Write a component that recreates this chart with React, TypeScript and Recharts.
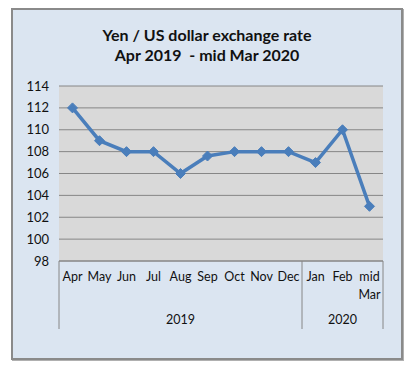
import React from "react";
import { LineChart, Line, XAxis, YAxis, CartesianGrid } from "recharts";

const months = ["Apr", "May", "Jun", "Jul", "Aug", "Sep", "Oct", "Nov", "Dec", "Jan", "Feb", "mid Mar"];
const years = ["2019", "2019", "2019", "2019", "2019", "2019", "2019", "2019", "2019", "2020", "2020", "2020"];
const rates = [112, 109, 108, 108, 106, 107.6, 108, 108, 108, 107, 110, 103];
const yTicks = [98, 100, 102, 104, 106, 108, 110, 112, 114];
const titleLines = ["Yen / US dollar exchange rate", "Apr 2019  - mid Mar 2020"];

const data = months.map((m, i) => ({ month: m, year: years[i], rate: rates[i] }));

const W = 419;
const H = 372;
const LEFT = 59;
const RIGHT = 36;
const PLOT_W = W - LEFT - RIGHT;
const BAND = PLOT_W / months.length;
const FONT = "Lato, 'Open Sans', sans-serif";
const LINE_COLOR = "#4a7ebb";
const AXIS_COLOR = "#868686";
const TICK_SIZE = 12.5;

const Diamond = (props: any) => {
  const { cx, cy } = props;
  if (cx == null || cy == null) return null;
  const r = 5;
  return (
    <path
      d={`M${cx},${cy - r} L${cx + r},${cy} L${cx},${cy + r} L${cx - r},${cy} Z`}
      fill={LINE_COLOR}
      stroke={LINE_COLOR}
      strokeWidth={1}
    />
  );
};

const MonthTick = (props: any) => {
  const { x, y, payload, index } = props;
  const i = index as number;
  const words = String(payload.value).split(" ");
  const isFirst = i === 0;
  const groupEnd = i === years.length - 1 || years[i] !== years[i + 1];
  const groupStart = i === 0 || years[i] !== years[i - 1];
  let yearLabel: React.ReactNode = null;
  if (groupStart) {
    let end = i;
    while (end + 1 < years.length && years[end + 1] === years[i]) end++;
    const cx = x + ((i + end) / 2 - i) * BAND;
    yearLabel = (
      <text x={cx} y={y + 63} textAnchor="middle" fontSize={TICK_SIZE} fontFamily={FONT} fill="#111">
        {years[i]}
      </text>
    );
  }
  return (
    <g>
      {words.map((w, k) => (
        <text
          key={k}
          x={x}
          y={y + 20 + k * 18}
          textAnchor="middle"
          fontSize={TICK_SIZE}
          fontFamily={FONT}
          fill="#111"
        >
          {w}
        </text>
      ))}
      {isFirst && <line x1={x - BAND / 2} x2={x - BAND / 2} y1={y} y2={y + 68} stroke={AXIS_COLOR} strokeWidth={1} />}
      {groupEnd && <line x1={x + BAND / 2} x2={x + BAND / 2} y1={y} y2={y + 68} stroke={AXIS_COLOR} strokeWidth={1} />}
      {yearLabel}
    </g>
  );
};

export default function App() {
  return (
    <div style={{ position: "absolute", left: 0, top: 0, width: W, height: H }}>
      <div
        style={{
          position: "absolute",
          left: 11,
          top: 8,
          width: 388,
          height: 348,
          background: "#dbe5f1",
          border: "2px solid #8a8a8a",
          boxShadow: "1px 1px 0 #b0b0b0",
        }}
      />
      <div
        style={{
          position: "absolute",
          left: 13,
          top: 25,
          width: 388,
          textAlign: "center",
          fontFamily: FONT,
          fontWeight: 700,
          fontSize: 16,
          lineHeight: "20px",
          color: "#111",
        }}
      >
        {titleLines.map((t, i) => (
          <div key={i} style={{ whiteSpace: "pre" }}>{t}</div>
        ))}
      </div>
      <div style={{ position: "absolute", left: 0, top: 0 }}>
        <LineChart width={W} height={H} data={data} margin={{ top: 86, right: RIGHT, bottom: 41, left: 0 }}>
          <CartesianGrid vertical={false} fill="#d9d9d9" stroke={AXIS_COLOR} strokeDasharray="" />
          <XAxis
            dataKey="month"
            scale="band"
            interval={0}
            tickSize={0}
            tickMargin={0}
            tickLine={false}
            axisLine={{ stroke: AXIS_COLOR }}
            height={70}
            tick={<MonthTick />}
          />
          <YAxis
            width={LEFT}
            domain={[98, 114]}
            ticks={yTicks}
            interval={0}
            axisLine={false}
            tickLine={false}
            tickMargin={4}
            tick={{ fontSize: 13, fontFamily: FONT, fill: "#111" }}
          />
          <Line
            dataKey="rate"
            stroke={LINE_COLOR}
            strokeWidth={3.5}
            dot={<Diamond />}
            activeDot={false}
            isAnimationActive={false}
          />
        </LineChart>
      </div>
    </div>
  );
}
